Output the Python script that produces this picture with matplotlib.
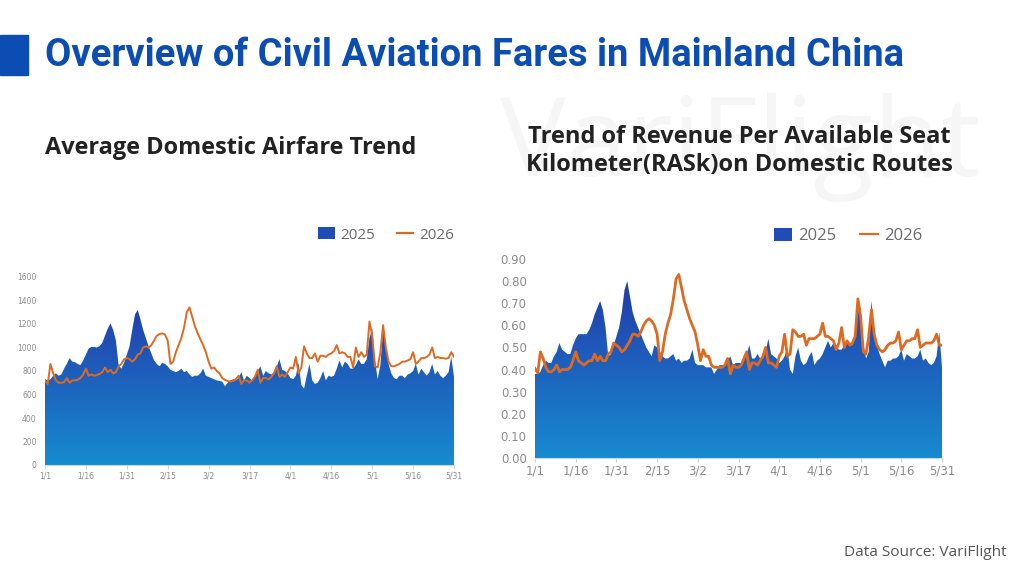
import numpy as np
import matplotlib
matplotlib.use('Agg')
import matplotlib.pyplot as plt
from matplotlib.colors import LinearSegmentedColormap
from matplotlib.patches import PathPatch, Rectangle
from matplotlib.lines import Line2D

# x axis labels (every 15 days, 1/1 .. 5/31)
tick_labels = ['1/1', '1/16', '1/31', '2/15', '3/2', '3/17', '4/1', '4/16', '5/1', '5/16', '5/31']

# average domestic airfare, daily 1/1 - 5/31
fare_2025 = [730, 720, 730, 760, 780, 760, 770, 820, 860, 910,
             880, 875, 860, 850, 890, 940, 990, 1005, 1005, 1000,
             1010, 1040, 1100, 1160, 1205, 1150, 1060, 850, 820, 870,
             940, 1010, 1150, 1280, 1320, 1240, 1150, 1080, 1010, 950,
             890, 860, 840, 870, 860, 840, 810, 800, 790, 800,
             820, 790, 800, 770, 750, 760, 760, 780, 820, 760,
             750, 740, 730, 720, 715, 710, 670, 700, 720, 730,
             720, 740, 790, 720, 760, 740, 720, 760, 800, 840,
             760, 800, 780, 770, 790, 840, 900, 810, 800, 780,
             740, 730, 760, 870, 680, 650, 760, 860, 720, 690,
             700, 740, 800, 720, 760, 750, 760, 820, 890, 830,
             880, 860, 820, 820, 850, 900, 860, 860, 900, 1080,
             1160, 900, 730, 850, 1150, 1000, 860, 780, 740, 730,
             760, 760, 740, 770, 780, 800, 860, 770, 820, 790,
             760, 790, 860, 770, 800, 760, 740, 760, 790, 920,
             750]
fare_2026 = [720, 690, 860, 780, 720, 700, 700, 705, 740, 700,
             720, 720, 725, 740, 770, 820, 760, 770, 760, 765,
             775, 790, 830, 790, 810, 780, 790, 840, 860, 900,
             910, 900, 880, 900, 940, 950, 1000, 1010, 1000, 1020,
             1060, 1100, 1115, 1120, 1110, 1060, 860, 880, 960, 1020,
             1080, 1170, 1300, 1340, 1260, 1180, 1120, 1070, 1020, 960,
             880, 820, 830, 800, 780, 740, 725, 715, 710, 715,
             730, 760, 690, 720, 720, 700, 720, 750, 810, 700,
             740, 740, 730, 750, 780, 840, 750, 770, 750, 790,
             830, 820, 920, 780, 830, 1010, 950, 910, 910, 950,
             880, 930, 930, 920, 940, 950, 970, 1020, 950, 960,
             950, 920, 920, 830, 1000, 920, 960, 920, 940, 1220,
             1100, 840, 830, 960, 1190, 1000, 880, 840, 840, 850,
             860, 880, 880, 890, 900, 960, 860, 880, 910, 910,
             920, 940, 1000, 910, 920, 910, 910, 905, 910, 960,
             920]

# RASK on domestic routes, daily 1/1 - 5/31
rask_2025 = [0.38, 0.38, 0.39, 0.42, 0.44, 0.43, 0.43, 0.46, 0.48, 0.52,
             0.49, 0.48, 0.47, 0.47, 0.51, 0.54, 0.56, 0.56, 0.56, 0.56,
             0.58, 0.61, 0.65, 0.68, 0.71, 0.67, 0.59, 0.46, 0.47, 0.51,
             0.55, 0.59, 0.66, 0.76, 0.80, 0.73, 0.66, 0.62, 0.59, 0.56,
             0.53, 0.50, 0.48, 0.46, 0.51, 0.50, 0.48, 0.46, 0.45, 0.45,
             0.46, 0.47, 0.44, 0.45, 0.43, 0.44, 0.44, 0.45, 0.49, 0.43,
             0.42, 0.42, 0.42, 0.41, 0.41, 0.41, 0.38, 0.40, 0.42, 0.42,
             0.42, 0.44, 0.46, 0.42, 0.43, 0.43, 0.43, 0.44, 0.47, 0.51,
             0.45, 0.45, 0.47, 0.45, 0.45, 0.48, 0.54, 0.47, 0.46, 0.45,
             0.43, 0.44, 0.46, 0.50, 0.40, 0.38, 0.46, 0.50, 0.44, 0.42,
             0.43, 0.46, 0.48, 0.42, 0.44, 0.45, 0.47, 0.50, 0.53, 0.50,
             0.52, 0.51, 0.49, 0.49, 0.51, 0.52, 0.51, 0.51, 0.56, 0.66,
             0.68, 0.52, 0.45, 0.48, 0.71, 0.58, 0.51, 0.47, 0.44, 0.41,
             0.44, 0.44, 0.45, 0.45, 0.46, 0.49, 0.44, 0.47, 0.46, 0.45,
             0.45, 0.46, 0.49, 0.44, 0.45, 0.43, 0.42, 0.43, 0.46, 0.57,
             0.41]
rask_2026 = [0.405, 0.385, 0.48, 0.45, 0.41, 0.39, 0.39, 0.40, 0.42, 0.39,
             0.40, 0.40, 0.40, 0.41, 0.44, 0.48, 0.44, 0.43, 0.42, 0.43,
             0.44, 0.44, 0.47, 0.44, 0.46, 0.44, 0.44, 0.47, 0.48, 0.52,
             0.51, 0.50, 0.48, 0.49, 0.51, 0.53, 0.56, 0.56, 0.55, 0.57,
             0.60, 0.62, 0.63, 0.62, 0.60, 0.56, 0.44, 0.48, 0.56, 0.61,
             0.65, 0.72, 0.81, 0.83, 0.77, 0.71, 0.67, 0.63, 0.60, 0.57,
             0.51, 0.44, 0.49, 0.46, 0.46, 0.42, 0.41, 0.41, 0.41, 0.41,
             0.42, 0.45, 0.38, 0.42, 0.41, 0.41, 0.42, 0.45, 0.48, 0.40,
             0.43, 0.43, 0.42, 0.44, 0.46, 0.50, 0.43, 0.43, 0.42, 0.41,
             0.46, 0.48, 0.56, 0.46, 0.47, 0.58, 0.57, 0.55, 0.55, 0.56,
             0.51, 0.54, 0.54, 0.54, 0.55, 0.56, 0.61, 0.55, 0.55, 0.54,
             0.53, 0.49, 0.52, 0.59, 0.50, 0.53, 0.51, 0.52, 0.55, 0.72,
             0.64, 0.48, 0.47, 0.55, 0.67, 0.56, 0.51, 0.49, 0.48, 0.49,
             0.51, 0.52, 0.52, 0.53, 0.57, 0.49, 0.51, 0.53, 0.53, 0.54,
             0.54, 0.58, 0.50, 0.51, 0.52, 0.52, 0.52, 0.53, 0.56, 0.51,
             0.51]

BLUE_TOP = '#2530a6'
BLUE_BOT = '#178bd0'
ORANGE = '#de6a22'
GREY = '#8c8c8c'

fig = plt.figure(figsize=(10.24, 5.76), dpi=100)
fig.patch.set_facecolor('white')
renderer = fig.canvas.get_renderer()


def fit_text(x, y, s, width_px, size, **kw):
    t = fig.text(x, y, s, fontsize=size, **kw)
    w = t.get_window_extent(renderer).width
    t.set_fontsize(size * width_px / w)
    return t


# watermark
fit_text(0.488, 0.745, 'VariFlight', 480, 80, color='#f6f6f6', family=['Open Sans', 'DejaVu Sans'],
         va='center', ha='left', zorder=0)

# title block
fig.add_artist(Rectangle((0, 1 - 75 / 576), 28 / 1024, 40 / 576, transform=fig.transFigure,
                         color='#0b4db3', zorder=2))
fit_text(45 / 1024, 1 - 56 / 576, 'Overview of Civil Aviation Fares in Mainland China', 862, 26,
         color='#0b4db3', fontweight='bold', family=['Roboto', 'DejaVu Sans'], va='center')

sub_font = ['Open Sans', 'DejaVu Sans']
fit_text(45 / 1024, 1 - 148 / 576, 'Average Domestic Airfare Trend', 372, 15,
         color='#222222', fontweight='bold', family=sub_font, va='center')
fit_text(739 / 1024, 1 - 151 / 576, 'Trend of Revenue Per Available Seat\nKilometer(RASk)on Domestic Routes',
         427, 15, color='#222222', fontweight='bold', family=sub_font, va='center', ha='center',
         multialignment='center', linespacing=1.22)

fit_text(1007 / 1024, 1 - 552 / 576, 'Data Source: VariFlight', 162, 11,
         color='#555555', family=sub_font, va='center', ha='right')

cmap = LinearSegmentedColormap.from_list('area', [BLUE_BOT, BLUE_TOP])


def draw_chart(ax, y25, y26, ymax, yticks, yfmt, fsize, lw):
    x = np.arange(len(y25))
    poly = ax.fill_between(x, 0, y25, facecolor='none', edgecolor='none')
    patch = PathPatch(poly.get_paths()[0], transform=ax.transData, facecolor='none', edgecolor='none')
    ax.add_patch(patch)
    grad = np.linspace(0, 1, 256).reshape(-1, 1)
    im = ax.imshow(grad, extent=[x[0], x[-1], 0, ymax], origin='lower', aspect='auto', cmap=cmap, zorder=1)
    im.set_clip_path(patch)
    ax.plot(x, y26, color=ORANGE, lw=lw, zorder=3, solid_joinstyle='round')
    ax.set_xlim(0, len(x) - 1)
    ax.set_ylim(0, ymax)
    ax.set_xticks(np.arange(0, len(x), 15))
    ax.set_xticklabels(tick_labels)
    ax.set_yticks(yticks)
    ax.set_yticklabels([yfmt.format(v) for v in yticks])
    for s in ['top', 'right', 'left']:
        ax.spines[s].set_visible(False)
    ax.spines['bottom'].set_color('#c9d6ea')
    ax.tick_params(axis='x', colors='#c9d6ea', labelcolor=GREY, labelsize=fsize, length=3, pad=2)
    ax.tick_params(axis='y', length=0, labelcolor=GREY, labelsize=fsize, pad=6)
    ax.set_facecolor('none')


ax1 = fig.add_axes([45 / 1024, 1 - 465 / 576, 409 / 1024, 188 / 576])
draw_chart(ax1, fare_2025, fare_2026, 1600, [0, 200, 400, 600, 800, 1000, 1200, 1400, 1600], '{:d}', 5.5, 1.4)

ax2 = fig.add_axes([535 / 1024, 1 - 458 / 576, 407 / 1024, 199 / 576])
draw_chart(ax2, rask_2025, rask_2026, 0.9, [0, 0.1, 0.2, 0.3, 0.4, 0.5, 0.6, 0.7, 0.8, 0.9], '{:.2f}', 8.5, 2.0)

# legends
for ax, anchor, fs in [(ax1, (386 / 1024, 1 - 235 / 576), 11), (ax2, (848 / 1024, 1 - 236 / 576), 12)]:
    handles = [Rectangle((0, 0), 1, 1, facecolor='#1f4db5', edgecolor='none'),
               Line2D([0], [0], color=ORANGE, lw=1.6)]
    ax.legend(handles, ['2025', '2026'], loc='center', bbox_to_anchor=anchor, bbox_transform=fig.transFigure,
              ncol=2, frameon=False, labelcolor='#6b6b6b', handlelength=1.1, handleheight=0.8,
              handletextpad=0.35, columnspacing=1.4, prop={'family': sub_font, 'size': fs})

fig.savefig('out.png', dpi=100, facecolor='white')
